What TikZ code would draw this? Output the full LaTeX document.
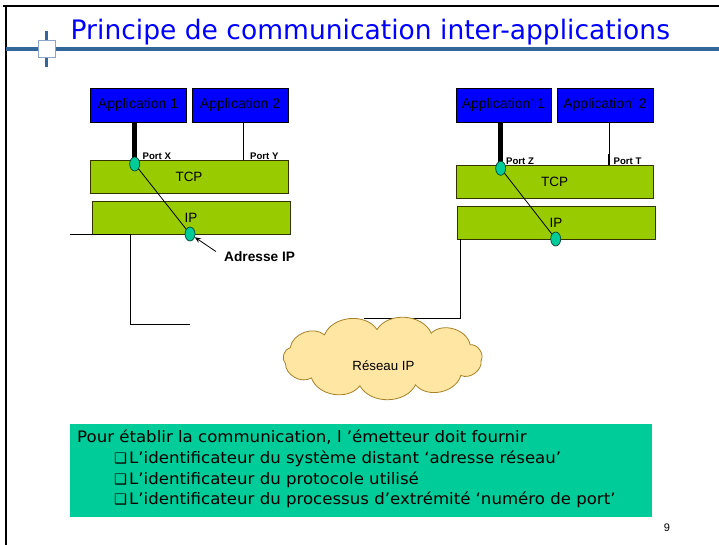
\documentclass[tikz,border=0pt]{standalone}
\usepackage{fontspec}
\setmainfont{Liberation Sans}
\newfontfamily\slidefont[FakeStretch=0.99]{DejaVu Sans}
\newfontfamily\notefont[FakeStretch=1.05]{DejaVu Sans}
\newfontfamily\dingfont{DejaVu Sans}
\usetikzlibrary{shapes.geometric,arrows.meta}

\definecolor{titleblue}{RGB}{0,0,255}
\definecolor{rulerblue}{RGB}{51,102,153}
\definecolor{squareedge}{RGB}{140,165,200}
\definecolor{appblue}{RGB}{0,0,255}
\definecolor{layergreen}{RGB}{153,204,0}
\definecolor{layeredge}{RGB}{51,51,0}
\definecolor{portteal}{RGB}{0,204,153}
\definecolor{portedge}{RGB}{0,70,50}
\definecolor{noteteal}{RGB}{0,204,153}
\definecolor{cloudfill}{RGB}{255,230,163}
\definecolor{cloudedge}{RGB}{165,130,40}

\tikzset{
  appbox/.style={draw=black, fill=appblue, minimum height=34pt, inner sep=0pt,
    outer sep=0pt, font=\fontsize{14}{16}\selectfont},
  layerbox/.style={draw=layeredge, fill=layergreen, minimum width=198pt,
    minimum height=33pt, inner sep=0pt, outer sep=0pt, font=\fontsize{13.5}{16}\selectfont},
  portdot/.style={ellipse, draw=portedge, fill=portteal, minimum width=10pt,
    minimum height=14pt, inner sep=0pt, line width=0.7pt},
  portlbl/.style={font=\bfseries\fontsize{9.6}{11}\selectfont, inner sep=0pt, anchor=base west},
  wire/.style={draw=black, line width=0.8pt},
  fatwire/.style={draw=black, line width=4.5pt},
  bodyline/.style={font=\notefont\fontsize{15.8}{18}\selectfont, inner sep=0pt, anchor=base west},
  bulletmark/.style={font=\dingfont\fontsize{14.5}{18}\selectfont, inner sep=0pt, anchor=base west},
  puff/.style={bend left=62},
}

\begin{document}
\begin{tikzpicture}[x=1pt,y=-1pt]
\useasboundingbox (0,0) rectangle (719,545);
\fill[white] (0,0) rectangle (719,545);

% slide frame and title rule
\draw[line width=2.5pt] (3,6) -- (719,6);
\draw[line width=2.5pt] (6,6) -- (6,545);
\draw[rulerblue, line width=3.5pt] (6,49) -- (719,49);
\draw[rulerblue, line width=2.5pt] (46.5,31) -- (46.5,67);
\node[draw=squareedge, fill=white, minimum size=17pt, inner sep=0pt, line width=0.8pt] (mark) at (46.5,48.5) {};
\node[anchor=base west, inner sep=0pt, text=titleblue,
      font=\slidefont\fontsize{26.8}{30}\selectfont] (title) at (70.5,39.5)
      {Principe de communication inter-applications};

% ---- left host ----
\node[appbox, minimum width=96pt] (app1) at (138,105) {Application 1};
\node[appbox, minimum width=96pt] (app2) at (240,105) {Application 2};
\node[layerbox] (tcpL) at (189,177) {TCP};
\node[layerbox] (ipL) at (191,217.5) {IP};

\coordinate (cX) at (134.7,164);
\coordinate (cIPL) at (190,234);
\coordinate (py) at (243,160);
\draw[fatwire] (app1.south -| cX) -- (cX);
\draw[wire] (app2.south -| py) -- (py);
\draw[wire] (cX) -- (cIPL);
\node[portdot] (portX) at (cX) {};
\node[portdot] (addrL) at (cIPL) {};
\node[portlbl] (lblX) at (142.5,160) {Port X};
\node[portlbl] (lblY) at (250,160) {Port Y};

\node[anchor=base west, inner sep=0pt, font=\bfseries\fontsize{13.7}{16}\selectfont]
      (adr) at (224,261.7) {Adresse IP};
\draw[wire, -{Stealth[length=6pt,width=5pt]}] ([xshift=-8pt]adr.north west) -- (addrL);

% left attachment to the network
\coordinate (l0) at (70,234);
\coordinate (l1) at (130,234);
\coordinate (l2) at (130,324);
\coordinate (l3) at (190,324);
\draw[wire] (l0) -- (l1) -- (l2) -- (l3);

% ---- right host ----
\node[appbox, minimum width=95pt] (app1r) at (503.5,105) {Application’ 1};
\node[appbox, minimum width=96pt] (app2r) at (605,105) {Application’ 2};
\node[layerbox, minimum width=197pt] (tcpR) at (554.5,181.5) {TCP};
\node[layerbox] (ipR) at (556,222.5) {IP};

\coordinate (cZ) at (500.7,168.3);
\coordinate (cIPR) at (555.7,239);
\coordinate (pt) at (609,165);
\coordinate (ptk) at (609,154);
\draw[fatwire] (app1r.south -| cZ) -- (cZ);
\draw[wire] (app2r.south -| pt) -- (pt);
\draw[line width=2pt] (ptk) -- (pt);
\draw[wire] (cZ) -- (cIPR);
\node[portdot] (portZ) at (cZ) {};
\node[portdot] (addrR) at (cIPR) {};
\node[portlbl] (lblZ) at (506,164.3) {Port Z};
\node[portlbl] (lblT) at (613.5,164.3) {Port T};

% right attachment to the network
\coordinate (r0) at (460.5,239);
\coordinate (r1) at (460.5,318);
\coordinate (r2) at (364,318);
\draw[wire] (r0) -- (r1) -- (r2);

% ---- network cloud: puffs strung along an inner ellipse ----
\coordinate (cc) at (382.5,358);
\foreach \k/\a in {0/5,1/37.7,2/70.5,3/103.2,4/135.9,5/168.6,6/201.4,7/234.1,8/266.8,9/299.5,10/332.3}
  \coordinate (q\k) at ([shift={(cc)}]\a:99 and 28.5);
\draw[draw=cloudedge, fill=cloudfill, line width=0.8pt]
  (q0) to[puff] (q1) to[puff] (q2) to[puff] (q3) to[puff] (q4) to[puff] (q5)
  to[puff] (q6) to[puff] (q7) to[puff] (q8) to[puff] (q9) to[puff] (q10)
  to[puff] (q0) -- cycle;
\node[anchor=base, inner sep=0pt, font=\fontsize{13.3}{16}\selectfont] (netlbl) at (383.5,370.7) {Réseau IP};

% ---- note ----
\node[fill=noteteal, anchor=north west, minimum width=582pt, minimum height=93pt, inner sep=0pt] (note) at (70,424) {};
\node[bodyline] (n0) at (77,442.3) {Pour établir la communication, l ’émetteur doit fournir};
\node[bulletmark] (b1) at (114,463.3) {❑};
\node[bodyline] (n1) at (129,463.3) {L’identificateur du système distant ‘adresse réseau’};
\node[bulletmark] (b2) at (114,484) {❑};
\node[bodyline] (n2) at (129,484) {L’identificateur du protocole utilisé};
\node[bulletmark] (b3) at (114,504.7) {❑};
\node[bodyline] (n3) at (129,504.7) {L’identificateur du processus d’extrémité ‘numéro de port’};

\node[inner sep=0pt, font=\fontsize{11}{13}\selectfont] (page) at (667,528) {9};
\end{tikzpicture}
\end{document}
